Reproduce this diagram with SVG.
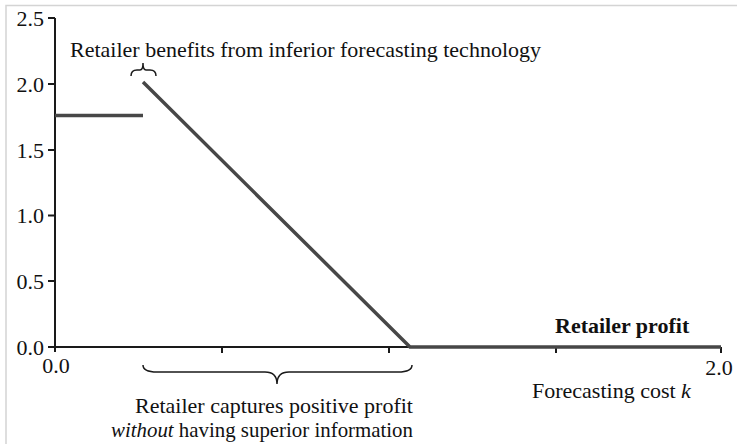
<svg xmlns="http://www.w3.org/2000/svg" width="737" height="444" viewBox="0 0 737 444">
<style>
text{font-family:"Liberation Serif","Times New Roman",serif;font-size:22px;fill:#111}
.ax{stroke:#1a1a1a;stroke-width:2;fill:none}
.pf{stroke:#474747;stroke-width:3.5;fill:none;stroke-linecap:butt}
.br{stroke:#1a1a1a;stroke-width:1.5;fill:none}
.yl{text-anchor:end}
.xl{text-anchor:middle}
</style>
<rect width="737" height="444" fill="#fff"/>
<path d="M6,444 V5.5 H737" stroke="#d4d4d4" stroke-width="1.5" fill="none"/>
<g id="axes">
<path class="ax" d="M55,18 V352 M55,347 H721"/>
<path class="ax" d="M48,18 H55 M48,84 H55 M48,150 H55 M48,215.5 H55 M48,281 H55 M48,347 H55"/>
<path class="ax" d="M222,347 V353 M389,347 V353 M556,347 V353 M721,347 V353"/>
<text class="yl" x="44" y="26">2.5</text>
<text class="yl" x="44" y="92">2.0</text>
<text class="yl" x="44" y="158">1.5</text>
<text class="yl" x="44" y="223">1.0</text>
<text class="yl" x="44" y="289">0.5</text>
<text class="yl" x="44" y="355">0.0</text>
<text class="xl" x="56" y="373">0.0</text>
<text class="xl" x="719" y="375">2.0</text>
<text x="532" y="398">Forecasting cost <tspan font-style="italic">k</tspan></text>
</g>
<g id="profit">
<path class="pf" d="M55,115.5 H143"/>
<path class="pf" d="M143,82 L410,347 H721"/>
<text x="555" y="333" font-weight="bold">Retailer profit</text>
</g>
<g id="annotations">
<path class="br" d="M131,76 Q131,70 137,70 H140 Q143,70 143,63 Q143,70 146,70 H150 Q156,70 156,76"/>
<text x="70" y="57">Retailer benefits from inferior forecasting technology</text>
<path class="br" d="M143,365 Q143,372 157,372 H265 Q277,372 277,384 Q277,372 289,372 H398 Q412,372 412,365"/>
<text class="xl" x="274" y="413">Retailer captures positive profit</text>
<text x="111" y="437" textLength="302" lengthAdjust="spacingAndGlyphs"><tspan font-style="italic">without</tspan> having superior information</text>
</g>
</svg>
